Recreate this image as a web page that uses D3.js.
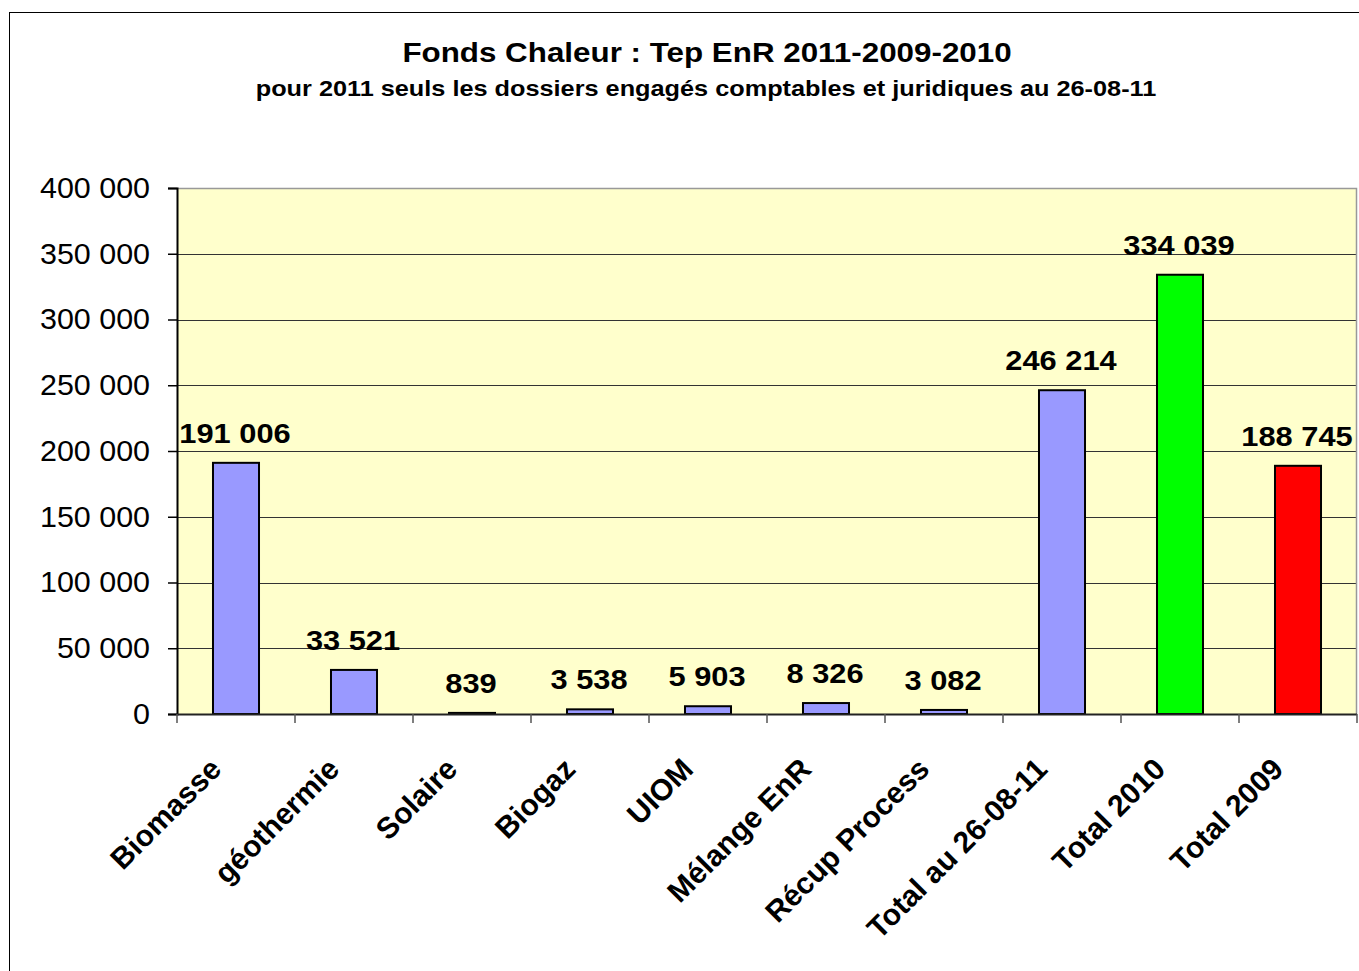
<!DOCTYPE html>
<html>
<head>
<meta charset="utf-8">
<script src="https://cdn.jsdelivr.net/npm/d3@7"></script>
<style>
  body { margin: 0; background: #fff; }
  svg { display: block; font-family: "Liberation Sans", Arial, sans-serif; }
</style>
</head>
<body>
<div id="chart"></div>
<script>
var width = 1359;
var height = 971;

var categories = ["Biomasse", "géothermie", "Solaire", "Biogaz", "UIOM", "Mélange EnR",
    "Récup Process", "Total au 26-08-11", "Total 2010", "Total 2009"];
var values = [191006, 33521, 839, 3538, 5903, 8326, 3082, 246214, 334039, 188745];
var barColors = ["#9999ff", "#9999ff", "#9999ff", "#9999ff", "#9999ff", "#9999ff",
    "#9999ff", "#9999ff", "#00ff00", "#ff0000"];
var yTicks = [0, 50000, 100000, 150000, 200000, 250000, 300000, 350000, 400000];

var titleText = "Fonds Chaleur : Tep EnR 2011-2009-2010";
var subtitleText = "pour 2011 seuls les dossiers engagés comptables et juridiques au 26-08-11";

var plot = { left: 177, right: 1357, top: 188, bottom: 714 };
var stretch = 1.12; // the original picture is a bit wider than tall

// numbers with a space as thousands separator
var fmt = function(v) {
    return d3.format(",")(v).replace(/,/g, " ");
};

var svg = d3.select("#chart").append("svg")
    .attr("width", width)
    .attr("height", height);

// outer chart frame
svg.append("rect")
    .attr("x", 9.5).attr("y", 12.5)
    .attr("width", width + 20).attr("height", height + 20)
    .attr("fill", "#fff")
    .attr("stroke", "#000")
    .attr("stroke-width", 1);

svg.append("text")
    .attr("transform", `translate(707,62) scale(${stretch},1)`)
    .attr("text-anchor", "middle")
    .attr("font-size", 28)
    .attr("font-weight", "bold")
    .text(titleText);

svg.append("text")
    .attr("transform", "translate(706,96) scale(1.15,1)")
    .attr("text-anchor", "middle")
    .attr("font-size", 22)
    .attr("font-weight", "bold")
    .text(subtitleText);

var x = d3.scaleBand()
    .domain(categories)
    .range([plot.left, plot.right])
    .paddingInner(0.61)
    .paddingOuter(0.305);

var xEdges = d3.scaleLinear()
    .domain([0, categories.length])
    .range([plot.left, plot.right]);

var y = d3.scaleLinear()
    .domain([0, 400000])
    .range([plot.bottom, plot.top]);

// plot background
svg.append("rect")
    .attr("x", plot.left).attr("y", plot.top)
    .attr("width", plot.right - plot.left)
    .attr("height", plot.bottom - plot.top)
    .attr("fill", "#ffffcc");

// gridlines
svg.append("g")
    .selectAll("line")
    .data(yTicks.filter(d => d > 0 && d < 400000))
    .join("line")
    .attr("x1", plot.left).attr("x2", plot.right)
    .attr("y1", d => Math.round(y(d)) + 0.5)
    .attr("y2", d => Math.round(y(d)) + 0.5)
    .attr("stroke", "#333")
    .attr("stroke-width", 1);

// top and right border of the plot area
svg.append("path")
    .attr("d", `M${plot.left},${plot.top + 0.5}H${plot.right - 0.5}V${plot.bottom}`)
    .attr("fill", "none")
    .attr("stroke", "#999")
    .attr("stroke-width", 1.5);

// bars
svg.append("g")
    .selectAll("rect")
    .data(values)
    .join("rect")
    .attr("x", (d, i) => x(categories[i]))
    .attr("y", d => y(d))
    .attr("width", x.bandwidth())
    .attr("height", d => y(0) - y(d))
    .attr("fill", (d, i) => barColors[i])
    .attr("stroke", "#000")
    .attr("stroke-width", 2);

// value labels
svg.append("g")
    .selectAll("text")
    .data(values)
    .join("text")
    .attr("transform", (d, i) =>
        `translate(${x(categories[i]) + x.bandwidth() / 2 - 1},${y(d) - 20}) scale(1.1,1)`)
    .attr("text-anchor", "middle")
    .attr("font-size", 28)
    .attr("font-weight", "bold")
    .text(d => fmt(d));

// y axis
var yAxis = d3.axisLeft(y)
    .tickValues(yTicks)
    .tickFormat(fmt)
    .tickSize(9)
    .tickPadding(18);

var yG = svg.append("g")
    .attr("transform", `translate(${plot.left},0)`)
    .call(yAxis);
yG.select(".domain").attr("stroke", "#000").attr("stroke-width", 2);
yG.selectAll(".tick line").attr("stroke", "#000").attr("stroke-width", 1.5);
yG.selectAll(".tick text")
    .attr("font-family", "Liberation Sans, Arial, sans-serif")
    .attr("font-size", 29)
    .attr("fill", "#000")
    .attr("x", 0)
    .attr("transform", "translate(-27,0) scale(1.05,1)");

// x axis line and ticks at band edges
svg.append("line")
    .attr("x1", plot.left).attr("x2", plot.right)
    .attr("y1", plot.bottom + 0.5).attr("y2", plot.bottom + 0.5)
    .attr("stroke", "#222")
    .attr("stroke-width", 2);

svg.append("g")
    .selectAll("line")
    .data(d3.range(categories.length + 1))
    .join("line")
    .attr("x1", d => xEdges(d)).attr("x2", d => xEdges(d))
    .attr("y1", plot.bottom).attr("y2", plot.bottom + 9)
    .attr("stroke", "#555")
    .attr("stroke-width", 1.5);

// rotated category labels
svg.append("g")
    .selectAll("text")
    .data(categories)
    .join("text")
    .attr("transform", (d, i) =>
        `translate(${xEdges(i + 0.5) - 13},771) rotate(-45)`)
    .attr("text-anchor", "end")
    .attr("font-size", 30)
    .attr("font-weight", "bold")
    .text(d => d);
</script>
</body>
</html>
